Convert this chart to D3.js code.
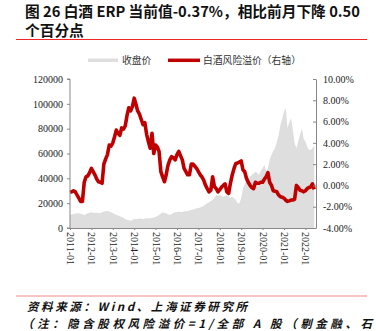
<!DOCTYPE html>
<html><head><meta charset="utf-8">
<script src="https://cdn.jsdelivr.net/npm/d3@7"></script>
<style>html,body{margin:0;padding:0;background:#fff;}svg{display:block;}</style>
</head><body>
<svg id="c" width="376" height="331"></svg>
<script>
// ---- data (monthly, 2011-01 .. 2022-06) ----
const startMonth = "2011-01";
const closePrice = [
 10500,10800,11200,11500,11800,11800,11300,11000,10500,11000,11800,12200,
 12600,12300,12000,12400,11800,12000,12600,13200,13400,13700,13200,12600,
 12000,11200,10500,10000,9400,8800,8200,7200,6600,6200,5900,6500,
 7200,7000,7400,7700,7500,7300,7600,7900,7700,7800,8000,8400,
 8800,9600,10400,11600,12600,12000,11800,11000,10500,11200,12000,12600,
 12800,13100,12800,13100,13300,13700,13500,14000,14500,14800,15300,15900,
 16200,16600,17200,17800,19000,19900,20800,21800,22500,24000,26600,26000,
 26600,25800,25200,26000,26600,25500,23900,25200,24000,22500,20000,19900,
 24000,32000,35000,38700,40000,41500,42700,44000,45300,44500,42700,46000,
 48000,50700,46000,48000,55000,58800,62000,64200,69500,75000,83000,88000,
 93700,96400,80300,85000,88300,78900,68200,64200,70000,74900,80300,72000,
 69500,65500,63000,62800,64200,66000
];
const erp = [
 -0.65,-0.6,-0.5,-0.6,-0.9,-1.2,-1.5,-1.5,0.3,0.8,0.9,1.2,
 1.6,1.3,1.0,0.6,0.35,0.3,0.2,2.0,2.5,2.9,3.8,3.7,
 4.0,4.6,5.2,4.9,4.7,5.4,5.3,5.6,6.6,7.3,7.0,7.4,
 8.2,7.6,7.0,6.7,6.2,5.7,5.9,4.8,4.1,3.5,4.9,3.0,
 3.8,3.6,3.2,1.3,0.8,0.35,1.0,1.9,2.4,2.7,2.6,2.4,
 2.9,3.2,2.8,2.4,1.6,1.3,1.0,1.0,2.0,2.0,1.8,1.6,
 1.3,1.0,0.8,0.5,0.03,-0.3,-0.6,-0.45,0.82,-0.1,-0.3,-0.6,
 -0.4,-0.15,0.0,0.15,-0.6,-0.75,0.2,0.98,1.6,2.06,2.1,2.2,
 2.3,1.45,1.3,0.67,0.3,0,-0.2,-0.3,0.3,0.2,0.2,0.3,
 0.3,0.6,0.8,1.2,0.3,0.0,-0.5,-0.55,-0.6,-0.9,-1.06,-1.1,
 -1.2,-1.4,-1.5,-1.45,-1.37,-1.37,-1.3,0,-0.2,-0.45,-0.5,-0.6,
 -0.5,-0.3,-0.2,-0.15,0.15,-0.37
];
const xTickLabels = ["2011-01","2012-01","2013-01","2014-01","2015-01","2016-01","2017-01","2018-01","2019-01","2020-01","2021-01","2022-01"];
const leftTicks = [0,20000,40000,60000,80000,100000,120000];
const rightTicks = [-4,-2,0,2,4,6,8,10];
const legendLabels = ["收盘价","白酒风险溢价（右轴）"];
const titleLines = ["图 26 白酒 ERP 当前值-0.37%，相比前月下降 0.50","个百分点"];
const sourceText = "资料来源：Wind、上海证券研究所";
const noteText = "（注：隐含股权风险溢价=1/全部 A 股（剔金融、石";

// ---- build ----
const parse = d3.timeParse("%Y-%m");
const t0 = parse(startMonth);
const dates = closePrice.map((_, i) => d3.timeMonth.offset(t0, i));
const svg = d3.select("#c");
const cjk = "'Noto Sans CJK SC', sans-serif";
const serif = "'Liberation Serif', 'Times New Roman', 'DejaVu Serif', serif";

const L = 70, R = 316, T = 79, B = 228;
const x = d3.scaleTime().domain([parse("2011-01"), parse("2022-07")]).range([L, R]);
const yL = d3.scaleLinear().domain([0, 120000]).range([B, T]);
const yR = d3.scaleLinear().domain([-4, 10]).range([B, T]);

// title
svg.selectAll("text.title").data(titleLines).join("text").attr("class", "title")
  .attr("x", 25).attr("y", (d, i) => 17 + i * 19)
  .attr("font-family", cjk)
  .attr("font-weight", "bold").attr("font-size", 14.7).attr("fill", "#111")
  .text(d => d);
svg.append("line").attr("x1", 16).attr("x2", 367).attr("y1", 39.5).attr("y2", 39.5)
  .attr("stroke", "#f02828").attr("stroke-width", 1);

// legend
svg.append("rect").attr("x", 88).attr("y", 58.5).attr("width", 30).attr("height", 3.5).attr("fill", "#dedede");
svg.append("line").attr("x1", 168).attr("x2", 200).attr("y1", 60.3).attr("y2", 60.3)
  .attr("stroke", "#c00000").attr("stroke-width", 3.5);
svg.selectAll("text.leg").data(legendLabels).join("text").attr("class", "leg")
  .attr("x", (d, i) => i ? 203 : 122).attr("y", 63.5)
  .attr("font-family", cjk).attr("font-size", 9.8).attr("fill", "#333").text(d => d);

// area
const area = d3.area().x((d, i) => x(dates[i])).y0(yL(0)).y1(d => yL(d));
svg.append("path").datum(closePrice).attr("d", area).attr("fill", "#dedede");

// line
const line = d3.line().x((d, i) => x(dates[i])).y(d => yR(d));
svg.append("path").datum(erp).attr("d", line).attr("fill", "none")
  .attr("stroke", "#c00000").attr("stroke-width", 3.6).attr("stroke-linejoin", "round");

// axes
const axisColor = "#888";
const gl = svg.append("g").attr("transform", `translate(${L},0)`)
  .call(d3.axisLeft(yL).tickValues(leftTicks).tickSize(3).tickFormat(d3.format("d")));
const gr = svg.append("g").attr("transform", `translate(${R},0)`)
  .call(d3.axisRight(yR).tickValues(rightTicks).tickSizeInner(-3).tickSizeOuter(0).tickPadding(7).tickFormat(d => d.toFixed(2) + "%"));
const gx = svg.append("g").attr("transform", `translate(0,${B})`)
  .call(d3.axisBottom(x).tickValues(xTickLabels.map(parse)).tickSize(2).tickSizeOuter(0).tickFormat(d3.timeFormat("%Y-%m")));
[gl, gr, gx].forEach(g => {
  g.attr("font-family", serif).attr("font-size", 10);
  g.select(".domain").attr("stroke", axisColor);
  g.selectAll(".tick line").attr("stroke", axisColor);
  g.selectAll("text").style("font-family", serif).attr("font-size", 10).attr("fill", "#222");
});
gl.select(".domain").attr("d", `M-3,${T}H0V${B}H-3`);
gl.selectAll("text").attr("x", -7);
gx.selectAll("text").attr("transform", "rotate(90)").attr("text-anchor", "start")
  .attr("x", 4).attr("y", 0).attr("dy", "0.35em");

// footer
svg.append("line").attr("x1", 16).attr("x2", 367).attr("y1", 296).attr("y2", 296)
  .attr("stroke", "#f08a8a").attr("stroke-width", 1.2);
svg.append("text").attr("x", 27).attr("y", 311).attr("textLength", 220)
  .attr("font-family", cjk).attr("font-style", "italic")
  .attr("font-weight", "bold").attr("font-size", 11.5).attr("fill", "#111").text(sourceText);
svg.append("text").attr("x", 22).attr("y", 328).attr("textLength", 350)
  .attr("font-family", cjk).attr("font-style", "italic")
  .attr("font-weight", "bold").attr("font-size", 11.5).attr("fill", "#111").text(noteText);
</script>
</body></html>
